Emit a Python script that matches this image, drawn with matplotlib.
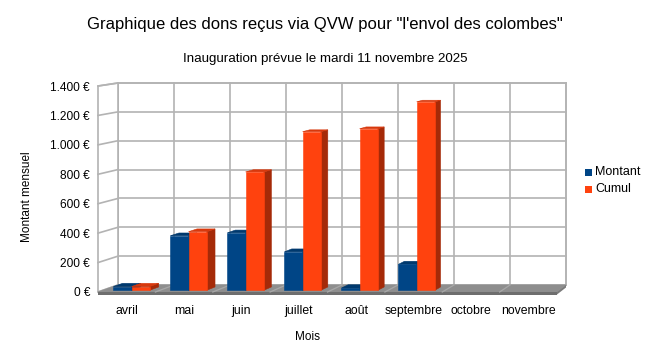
import matplotlib
matplotlib.use("Agg")
import matplotlib.pyplot as plt
from matplotlib.patches import Polygon, Rectangle

# ---- data ----
months = ["avril", "mai", "juin", "juillet", "août", "septembre", "octobre", "novembre"]
montant = [25, 372, 392, 262, 15, 177, 0, 0]
cumul = [25, 400, 808, 1083, 1103, 1287, 0, 0]
yticks = [0, 200, 400, 600, 800, 1000, 1200, 1400]
ytick_labels = ["0 €", "200 €", "400 €", "600 €", "800 €", "1.000 €", "1.200 €", "1.400 €"]
series_names = ["Montant", "Cumul"]

title = "Graphique des dons reçus via QVW pour \"l'envol des colombes\""
subtitle = "Inauguration prévue le mardi 11 novembre 2025"

plt.rcParams['font.family'] = ['Liberation Sans', 'DejaVu Sans']

W, H = 651, 363
fig = plt.figure(figsize=(W / 100, H / 100), dpi=100)
fig.patch.set_facecolor("white")

# back wall in pixel coordinates
bl, br, bt, bb = 118, 566, 83, 285
ax = fig.add_axes([bl / W, 1 - bb / H, (br - bl) / W, (bb - bt) / H])
ncat = len(months)
ymax = 1400
ax.set_xlim(0, ncat)
ax.set_ylim(0, ymax)
ax.axis("off")

sx = (br - bl) / ncat          # px per category
sy = (bb - bt) / ymax          # px per euro


def proj(x, y, z):
    """Map (x, y, depth z) to back-wall data coordinates (z=0 back, z=1 front)."""
    dxp = z * (-20 + 11 * x / ncat)
    dyp = -z * (7 - 4 * y / ymax)
    return (x + dxp / sx, y + dyp / sy)


grid_c = "#b3b3b3"
lw = 1.2

# back wall
ax.add_patch(Rectangle((0, 0), ncat, ymax, facecolor="white", edgecolor=grid_c,
                       lw=lw, clip_on=False, zorder=1))
for v in yticks:
    ax.plot([0, ncat], [v, v], color=grid_c, lw=lw, clip_on=False, zorder=2)
for i in range(ncat + 1):
    ax.plot([i, i], [0, ymax], color=grid_c, lw=lw, clip_on=False, zorder=2)

# left wall
lw_poly = [proj(0, 0, 0), proj(0, ymax, 0), proj(0, ymax, 1), proj(0, 0, 1)]
ax.add_patch(Polygon(lw_poly, closed=True, facecolor="white", edgecolor=grid_c,
                     lw=lw, clip_on=False, zorder=2))
for v in yticks:
    p0, p1 = proj(0, v, 0), proj(0, v, 1)
    ax.plot([p0[0], p1[0]], [p0[1], p1[1]], color=grid_c, lw=lw, clip_on=False, zorder=3)

# floor
thick = 2.5 / sy
floor = [proj(0, 0, 0), proj(ncat, 0, 0), proj(ncat, 0, 1), proj(0, 0, 1)]
ax.add_patch(Polygon(floor, closed=True, facecolor="#8e8e8e", edgecolor="#8e8e8e",
                     lw=0.6, clip_on=False, zorder=3))
f0, f1 = proj(0, 0, 1), proj(ncat, 0, 1)
b1 = proj(ncat, 0, 0)
ax.add_patch(Polygon([f0, f1, (f1[0], f1[1] - thick), (f0[0], f0[1] - thick)],
                     closed=True, facecolor="#6e6e6e", edgecolor="none",
                     clip_on=False, zorder=3))
ax.add_patch(Polygon([f1, b1, (b1[0], b1[1] - thick), (f1[0], f1[1] - thick)],
                     closed=True, facecolor="#7a7a7a", edgecolor="none",
                     clip_on=False, zorder=3))
for i in range(1, ncat):
    p0, p1 = proj(i, 0, 0), proj(i, 0, 1)
    ax.plot([p0[0], p1[0]], [p0[1], p1[1]], color="#a8a8a8", lw=0.9,
            clip_on=False, zorder=3)

# bars
zf, zb = 0.75, 0.28
bw = 0.32
colors = {
    "Montant": ("#004586", "#002f5c", "#00396e"),
    "Cumul": ("#ff420e", "#a52a08", "#d8380c"),
}
for i in range(ncat):
    for k, (name, vals) in enumerate(zip(series_names, [montant, cumul])):
        h = vals[i]
        if h <= 0:
            continue
        front, side, top = colors[name]
        xl = i + 0.5 - bw + k * bw
        xr = xl + bw
        z = 10 + i * 3 + k
        # side face
        ax.add_patch(Polygon([proj(xr, 0, zf), proj(xr, h, zf), proj(xr, h, zb), proj(xr, 0, zb)],
                             closed=True, facecolor=side, edgecolor=side, lw=0.4,
                             clip_on=False, zorder=z))
        # top face
        ax.add_patch(Polygon([proj(xl, h, zf), proj(xr, h, zf), proj(xr, h, zb), proj(xl, h, zb)],
                             closed=True, facecolor=top, edgecolor=top, lw=0.4,
                             clip_on=False, zorder=z))
        # front face (rectangle)
        pl0 = proj(xl, 0, zf)
        pr1 = proj(xr, h, zf)
        ax.bar(pl0[0], pr1[1] - pl0[1], width=pr1[0] - pl0[0], bottom=pl0[1],
               align="edge", color=front, edgecolor=front, lw=0.4,
               clip_on=False, zorder=z + 0.5)

# y tick labels along the front edge of the left wall
for v, lab in zip(yticks, ytick_labels):
    p = proj(0, v, 1)
    ax.annotate(lab, xy=p, xytext=(-8, -1.5), textcoords="offset pixels",
                ha="right", va="center", fontsize=8.6, color="#000000",
                annotation_clip=False)

# category labels under the front floor edge
for i, m in enumerate(months):
    p = proj(i + 0.5, 0, 1)
    ax.annotate(m, xy=p, xytext=(0, -19), textcoords="offset pixels",
                ha="center", va="center", fontsize=8.8, annotation_clip=False)

# titles and axis labels (pixel placement)
def ftext(x, y, s, **kw):
    fig.text(x / W, 1 - y / H, s, **kw)

ftext(325, 25, title, ha="center", va="center", fontsize=12.0)
ftext(325, 59, subtitle, ha="center", va="center", fontsize=9.6)
ftext(27, 197, "Montant mensuel", ha="center", va="center", rotation=90, fontsize=8.5)
ftext(308, 337, "Mois", ha="center", va="center", fontsize=8.5)

# legend
for j, (name, yy) in enumerate(zip(series_names, [172, 189.5])):
    fig.patches.append(Rectangle(((585) / W, 1 - (yy + 3.5) / H), 7 / W, 7 / H,
                                 transform=fig.transFigure, facecolor=colors[name][0],
                                 edgecolor="none"))
    ftext(595, yy, name, ha="left", va="center", fontsize=9)

fig.savefig("out.png", dpi=100)
